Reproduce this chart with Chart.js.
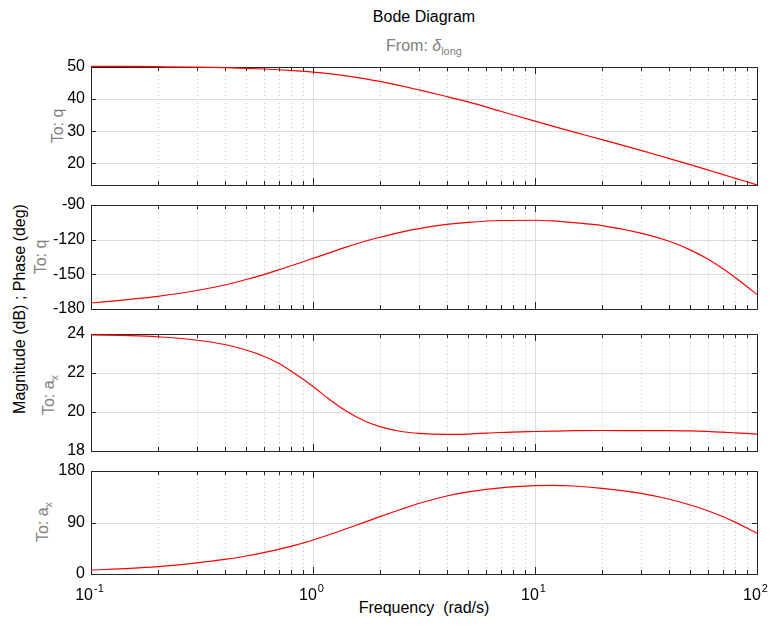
<!DOCTYPE html>
<html lang="en">

<head>
    <meta charset="UTF-8">
    <script src="https://cdn.jsdelivr.net/npm/chart.js"></script>
    <title>Bode Diagram</title>
    <style>
        body {
            margin: 0;
            background: #fff;
        }

        #figura {
            position: relative;
            width: 772px;
            height: 626px;
            font-family: "Liberation Sans", Arial, sans-serif;
            font-size: 16px;
            color: #000;
        }

        #figura canvas {
            position: absolute;
            left: 0;
        }

        .texto {
            position: absolute;
            white-space: nowrap;
            line-height: 1;
            transform: translate(-50%, -50%);
        }

        .rot {
            transform: translate(-50%, -50%) rotate(-90deg);
        }

        .cinza {
            color: #808080;
        }

        sub {
            font-size: 11px;
            vertical-align: -4px;
            line-height: 0;
        }
    </style>
</head>

<body>
    <div id="figura">
        <div class="texto" style="left:424px; top:17px;">Bode Diagram</div>
        <div class="texto cinza" style="left:424px; top:46px;">From: <i>δ</i><sub>long</sub></div>

        <div class="texto rot" style="left:20px; top:309px;">Magnitude (dB) ; Phase (deg)</div>
        <div class="texto rot cinza" style="left:58px; top:126px;">To: q</div>
        <div class="texto rot cinza" style="left:41px; top:257px;">To: q</div>
        <div class="texto rot cinza" style="left:49px; top:395px;">To: a<sub>x</sub></div>
        <div class="texto rot cinza" style="left:43px; top:522px;">To: a<sub>x</sub></div>

        <div class="texto" style="left:424px; top:608px;">Frequency &nbsp;(rad/s)</div>

        <canvas id="painel0"></canvas>
        <canvas id="painel1"></canvas>
        <canvas id="painel2"></canvas>
        <canvas id="painel3"></canvas>
    </div>
</body>

</html>

<script>
    // frequencias em rad/s
    const frequencias = [0.1, 0.15, 0.2, 0.3, 0.4, 0.5, 0.6, 0.7, 0.85, 1, 1.2, 1.41, 1.7, 2, 2.5, 3, 4, 5, 7, 10, 12, 15, 20, 30, 40, 50, 60, 70, 80, 90, 100];

    // delta_long -> q
    const magnitudeQ = [50.2, 50.17, 50.12, 49.98, 49.8, 49.6, 49.38, 49.14, 48.78, 48.4, 47.85, 47.25, 46.38, 45.5, 44.1, 42.85, 40.8, 39.1, 36.2, 33.1, 31.55, 29.7, 27.35, 24.0, 21.5, 19.55, 17.9, 16.5, 15.25, 14.2, 13.2];
    const faseQ = [-174.8, -171.6, -169, -164, -159.2, -154.5, -150.2, -146.2, -140.8, -136.2, -131, -126.5, -121.6, -117.9, -113.4, -110.4, -106.8, -105, -103.4, -103.2, -103.8, -105.3, -107.8, -114.3, -121.2, -128.8, -136.8, -145, -153, -160.5, -167.5];

    // delta_long -> a_x
    const magnitudeAx = [23.95, 23.92, 23.86, 23.68, 23.46, 23.18, 22.86, 22.5, 21.88, 21.31, 20.6, 20.05, 19.55, 19.25, 19.0, 18.9, 18.85, 18.87, 18.95, 19.0, 19.02, 19.04, 19.05, 19.05, 19.05, 19.03, 19.0, 18.97, 18.93, 18.9, 18.86];
    const faseAx = [7, 9.8, 12.8, 19.5, 25.5, 31.5, 37.3, 43.1, 51.3, 59.4, 69.4, 79, 90.2, 100.2, 113.2, 123.2, 136.3, 143.4, 150.5, 154.3, 155, 153.8, 149.8, 141, 131, 120.6, 110.6, 100.4, 90.2, 80.4, 71.1];

    // ticks de cada painel
    const ticksMagQ = [20, 30, 40, 50];
    const ticksFaseQ = [-180, -150, -120, -90];
    const ticksMagAx = [18, 20, 22, 24];
    const ticksFaseAx = [0, 90, 180];

    const decadas = [0.1, 1, 10, 100];
    const expoentes = ['-1', '0', '1', '2'];

    const fonte = '"Liberation Sans", Arial, sans-serif';

    // posicao (px) da area de plotagem de cada painel
    const paineis = [
        { serie: magnitudeQ, ticks: ticksMagQ, min: 13.2, max: 50, topo: 67, base: 185 },
        { serie: faseQ, ticks: ticksFaseQ, min: -180, max: -90, topo: 205, base: 309 },
        { serie: magnitudeAx, ticks: ticksMagAx, min: 18, max: 24, topo: 334, base: 451 },
        { serie: faseAx, ticks: ticksFaseAx, min: 0, max: 180, topo: 471, base: 574 }
    ];

    const menores = [];
    [0.1, 1, 10].forEach(d => {
        for (let k = 2; k <= 9; k++) menores.push(k * d);
    });

    // grade e moldura (com ticks para dentro) ficam por baixo da curva
    const moldura = {
        id: 'moldura',
        beforeDatasetsDraw(chart) {
            const { ctx, chartArea: a, scales: { x, y } } = chart;
            ctx.save();
            ctx.lineWidth = 1;

            ctx.strokeStyle = '#c4c4c4';
            ctx.setLineDash([1, 3]);
            menores.forEach(f => {
                const px = Math.round(x.getPixelForValue(f)) + 0.5;
                ctx.beginPath();
                ctx.moveTo(px, a.top);
                ctx.lineTo(px, a.bottom);
                ctx.stroke();
            });

            ctx.setLineDash([]);
            ctx.strokeStyle = '#dcdcdc';
            decadas.forEach(f => {
                const px = Math.round(x.getPixelForValue(f)) + 0.5;
                ctx.beginPath();
                ctx.moveTo(px, a.top);
                ctx.lineTo(px, a.bottom);
                ctx.stroke();
            });
            y.ticks.forEach(t => {
                const py = Math.round(y.getPixelForValue(t.value)) + 0.5;
                ctx.beginPath();
                ctx.moveTo(a.left, py);
                ctx.lineTo(a.right, py);
                ctx.stroke();
            });

            ctx.strokeStyle = '#262626';
            const marca = (f, tam) => {
                const px = Math.round(x.getPixelForValue(f)) + 0.5;
                ctx.beginPath();
                ctx.moveTo(px, a.top);
                ctx.lineTo(px, a.top + tam);
                ctx.moveTo(px, a.bottom);
                ctx.lineTo(px, a.bottom - tam);
                ctx.stroke();
            };
            menores.forEach(f => marca(f, 4));
            decadas.forEach(f => marca(f, 7));

            y.ticks.forEach(t => {
                const py = Math.round(y.getPixelForValue(t.value)) + 0.5;
                ctx.beginPath();
                ctx.moveTo(a.left, py);
                ctx.lineTo(a.left + 5, py);
                ctx.moveTo(a.right, py);
                ctx.lineTo(a.right - 5, py);
                ctx.stroke();
            });

            ctx.strokeRect(Math.round(a.left) + 0.5, Math.round(a.top) + 0.5,
                Math.round(a.right - a.left), Math.round(a.bottom - a.top));
            ctx.restore();
        },
        afterDraw(chart) {
            if (!chart.options.plugins.moldura.rotulosX) return;
            const { ctx, chartArea: a, scales: { x } } = chart;
            ctx.save();
            ctx.fillStyle = '#000';
            ctx.textBaseline = 'alphabetic';
            ctx.textAlign = 'left';
            decadas.forEach((f, i) => {
                const px = x.getPixelForValue(f);
                ctx.font = '16px ' + fonte;
                const w1 = ctx.measureText('10').width;
                ctx.font = '11px ' + fonte;
                const w2 = ctx.measureText(expoentes[i]).width;
                const ini = px - (w1 + w2) / 2 - 2;
                ctx.font = '16px ' + fonte;
                ctx.fillText('10', ini, a.bottom + 26);
                ctx.font = '11px ' + fonte;
                ctx.fillText(expoentes[i], ini + w1 + 1, a.bottom + 18);
            });
            ctx.restore();
        }
    };

    function criarPainel(i) {
        const p = paineis[i];
        const ultimo = i === paineis.length - 1;
        // folga maior que a meia altura dos rotulos de y + padding
        const folgaTopo = 20;
        const folgaBase = ultimo ? 45 : 20;

        const canvas = document.getElementById('painel' + i);
        canvas.width = 772;
        canvas.height = (p.base - p.topo) + folgaTopo + folgaBase;
        canvas.style.top = (p.topo - folgaTopo) + 'px';

        return new Chart(canvas.getContext('2d'), {
            type: 'line',
            data: {
                datasets: [{
                    data: frequencias.map((f, k) => ({ x: f, y: p.serie[k] })),
                    borderColor: '#ff0000',
                    borderWidth: 1.2,
                    pointRadius: 0,
                    cubicInterpolationMode: 'monotone',
                    clip: 3,
                    fill: false
                }]
            },
            options: {
                responsive: false,
                animation: false,
                layout: {
                    padding: { top: folgaTopo, bottom: folgaBase, left: 0, right: 15 }
                },
                plugins: {
                    legend: { display: false },
                    tooltip: { enabled: false },
                    moldura: { rotulosX: ultimo }
                },
                scales: {
                    x: {
                        type: 'logarithmic',
                        min: 0.1,
                        max: 100,
                        display: false
                    },
                    y: {
                        min: p.min,
                        max: p.max,
                        afterBuildTicks: s => { s.ticks = p.ticks.map(v => ({ value: v })); },
                        afterFit: s => { s.width = 91; },
                        grid: { display: false, drawTicks: false },
                        border: { display: false },
                        ticks: {
                            color: '#000',
                            padding: 6,
                            font: { size: 16, family: fonte }
                        }
                    }
                }
            },
            plugins: [moldura]
        });
    }

    paineis.forEach((p, i) => criarPainel(i));
</script>
